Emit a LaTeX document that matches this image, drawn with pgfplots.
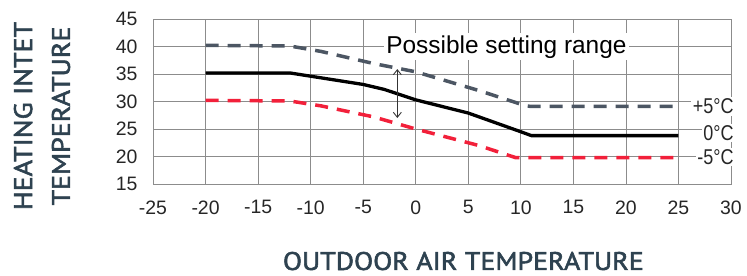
\documentclass[border=0pt]{standalone}
\usepackage{pgfplots}
\pgfplotsset{compat=1.18}
\usepackage{fontspec}
\setmainfont{Liberation Sans}
\newfontfamily\titlefont[FakeStretch=1.1, FakeBold=2.2]{PT Sans}
\newfontfamily\narrowfont[FakeStretch=0.84]{Liberation Sans}
\usetikzlibrary{arrows.meta}
\definecolor{titlecol}{HTML}{2E4250}
\definecolor{uppercol}{HTML}{4C5663}
\definecolor{lowercol}{HTML}{F2203A}
\definecolor{gridcol}{HTML}{8C8C8C}
\begin{document}
\begin{tikzpicture}
\useasboundingbox (0,0) rectangle (747bp,276bp);
\begin{axis}[
  at={(153bp,92bp)}, anchor=south west,
  scale only axis, width=578bp, height=165bp,
  xmin=-25, xmax=30, ymin=15, ymax=45,
  xtick={-25,-20,...,30}, ytick={15,20,...,45},
  grid=major,
  major grid style={draw=gridcol, line width=0.7bp},
  axis line style={draw=gridcol, line width=0.7bp},
  tick style={draw=none},
  /pgf/number format/assume math mode=true,
  tick label style={font=\fontsize{19.5}{21}\selectfont, text=black!85},
  xticklabel style={yshift=-13bp},
  yticklabel style={xshift=-12bp},
  clip=false,
  xlabel={OUTDOOR AIR TEMPERATURE},
  xlabel style={at={(axis description cs:0.537,-0.467)}, anchor=center,
    font=\titlefont\fontsize{25.5}{30}\selectfont, text=titlecol},
  ylabel={HEATING INTET\\TEMPERATURE},
  ylabel style={at={(axis description cs:-0.192,0.412)}, anchor=center, align=center,
    font=\titlefont\fontsize{25.5}{38}\selectfont, text=titlecol},
]
\addplot[uppercol, line width=3.5bp, dash pattern=on 13bp off 9bp] coordinates {
 (-20,40.2) (-12,40.1) (-9,39.1) (-4,36.9) (0,35.4) (6,32) (10.5,29.2) (11,29.1) (25,29.1)};
\addplot[black, line width=3.3bp] coordinates {
 (-20,35.2) (-12,35.2) (-10,34.6) (-5,33.1) (-3,32.2) (0,30.3) (5,27.9) (10,24.5) (11,23.8) (25,23.8)};
\addplot[lowercol, line width=3.5bp, dash pattern=on 13bp off 9bp] coordinates {
 (-20,30.2) (-12,30.1) (-9,29.2) (-4,27.2) (0,25) (6,22) (9.5,19.8) (25,19.8)};
\draw[{Straight Barb[length=5bp,width=8bp]}-{Straight Barb[length=5bp,width=8bp]}, black!80, line width=0.9bp]
  (axis cs:-1.75,35.9) -- (axis cs:-1.75,27.0);
\node[fill=white, inner sep=2bp, anchor=base, font=\fontsize{24.5}{27}\selectfont, text=black]
  at (axis cs:8.63,38.8) {Possible setting range};
\node[fill=white, inner sep=1.5bp, anchor=east, font=\narrowfont\fontsize{21.5}{23}\selectfont, text=black!85]
  at (axis cs:30.4,29.1) {+5°C};
\node[fill=white, inner sep=1.5bp, anchor=east, font=\narrowfont\fontsize{21.5}{23}\selectfont, text=black!85]
  at (axis cs:30.4,24.3) {0°C};
\node[fill=white, inner sep=1.5bp, anchor=east, font=\narrowfont\fontsize{21.5}{23}\selectfont, text=black!85]
  at (axis cs:30.4,19.9) {-5°C};
\end{axis}
\end{tikzpicture}
\end{document}
